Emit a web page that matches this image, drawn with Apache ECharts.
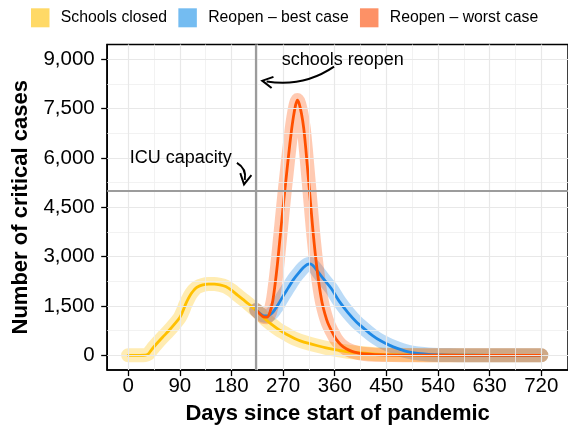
<!DOCTYPE html>
<html><head><meta charset="utf-8">
<script src="https://cdn.jsdelivr.net/npm/echarts@6/dist/echarts.min.js"></script>
<style>html,body{margin:0;padding:0;background:#fff}#c{width:568px;height:434px}</style>
</head><body><div id="c"></div>
<script>
// ---- data ----
const closedDays = [0,10,20,30,35,40,45,50,60,70,80,90,95,100,105,110,115,120,130,140,150,160,170,180,190,200,210,220,230,240,250,260,270,280,290,300,315,330,345,360,380,400,420,440,470,500,540,600,660,720];
const closedVals = [0,0,0,5,40,150,260,360,550,730,930,1150,1330,1550,1730,1880,1990,2070,2140,2165,2165,2140,2090,1980,1840,1700,1560,1410,1260,1080,940,810,700,600,510,440,360,290,225,170,115,80,50,30,15,7,3,1,0,0];
const bestDays = [223,230,237,243,250,256,262,270,279,288,297,305,312,317,322,330,340,354,368,383,397,412,426,440,455,469,483,498,515,530,560,600,660,720];
const bestVals = [1380,1270,1200,1200,1270,1400,1560,1800,2050,2300,2500,2660,2760,2780,2730,2560,2330,2030,1640,1300,1030,800,600,440,310,210,130,75,40,20,6,2,0,0];
const worstDays = [223,230,236,242,247,252,256,260,264,268,272,276,280,284,288,292,295,298,302,306,310,314,318,322,326,330,334,338,343,348,354,362,371,380,390,400,412,430,460,500,560,620,720];
const worstVals = [1380,1250,1170,1160,1300,1650,2150,2750,3450,4150,4850,5500,6150,6750,7250,7620,7760,7650,7350,6900,6200,5400,4600,3800,3100,2500,2000,1600,1250,980,760,500,313,200,120,75,40,20,8,3,1,0,0];
const seriesNames = ['Schools closed','Reopen \u2013 best case','Reopen \u2013 worst case'];
const xTicks = [0,90,180,270,360,450,540,630,720];
const xMinor = [45,135,225,315,405,495,585,675];
const yTicks = [0,1500,3000,4500,6000,7500,9000];
const yMinor = [750,2250,3750,5250,6750,8250];
const reopenDay = 223;
const icuCapacity = 5000;
// annotation anchors (data coordinates)
const icuLabel = {text:'ICU capacity', at:[91.6, 5990]};
const reopenLabel = {text:'schools reopen', at:[374, 8980]};
const icuArrow = {from:[189.5, 5848], to:[203.3, 5330], curveness:0.35};
const reopenArrow = {from:[358.8, 8776], to:[241.3, 8326], curveness:0.2};

// ---- styles ----
const FONT = "'Liberation Sans', Arial, sans-serif";
const lineColors = ['#FFC000','#1E88E5','#FF5000'];
const keyColors = ['#FFD966','#74BCF1','#FD9166'];
const bandW = 14, lineW = 2.8;
const pairs = (d, v) => d.map((x, i) => [x, v[i]]);
const datasets = [pairs(closedDays, closedVals), pairs(bestDays, bestVals), pairs(worstDays, worstVals)];

const chart = echarts.init(document.getElementById('c'), null, {renderer:'canvas'});
const arrowHead = 'path://M0,0 L7,12 L5.2,13 L0,4.2 L-5.2,13 L-7,12 Z';

const bandSeries = datasets.map((d, i) => ({
  name: seriesNames[i], type:'line', data:d, showSymbol:false, smooth:0.3, silent:true, z:3,
  itemStyle:{color:keyColors[i]},
  lineStyle:{width:bandW, color:lineColors[i], opacity:0.3, cap:'round', join:'round'},
  animation:false
}));
const thinSeries = datasets.map((d, i) => ({
  name: seriesNames[i] + ' line', type:'line', data:d, showSymbol:false, smooth:0.3, silent:true, z:4,
  lineStyle:{width:lineW, color:lineColors[i], cap:'round', join:'round'},
  animation:false
}));

const gridMajor = {color:'#E8E8E8', width:1.2, type:'solid'};
const gridMinor = {color:'#EFEFEF', width:0.8, type:'solid'};
const gridSeries = {
  name:'grid', type:'line', data:[], silent:true, z:1, animation:false,
  markLine:{
    silent:true, animation:false, symbol:['none','none'], label:{show:false},
    emphasis:{disabled:true},
    data:[
      ...xMinor.map(v => ({xAxis:v, lineStyle:gridMinor})),
      ...yMinor.map(v => ({yAxis:v, lineStyle:gridMinor})),
      ...xTicks.map(v => ({xAxis:v, lineStyle:gridMajor})),
      ...yTicks.map(v => ({yAxis:v, lineStyle:gridMajor}))
    ]
  }
};
const refStyle = {color:'#9C9C9C', width:2.2, type:'solid'};
const refSeries = {
  name:'ref', type:'line', data:[], silent:true, z:2, animation:false,
  markLine:{
    silent:true, animation:false, symbol:['none','none'], label:{show:false},
    emphasis:{disabled:true},
    data:[{xAxis:reopenDay, lineStyle:refStyle},{yAxis:icuCapacity, lineStyle:refStyle}]
  }
};
const arrowSeries = [icuArrow, reopenArrow].map((a, i) => ({
  name:'arrow' + i, type:'lines', coordinateSystem:'cartesian2d', silent:true, z:6, animation:false,
  symbol:['none', arrowHead], symbolSize:[14,13],
  lineStyle:{color:'#000', width:2, opacity:1, curveness:a.curveness, type:'solid'},
  itemStyle:{color:'#000'},
  data:[{coords:[a.from, a.to]}]
}));
const textSeries = {
  name:'ann', type:'line', data:[], silent:true, z:6, animation:false,
  markPoint:{
    silent:true, animation:false, symbol:'circle', symbolSize:0,
    label:{show:true, position:'inside', color:'#000', fontSize:18, fontFamily:FONT, formatter:'{b}'},
    data:[
      {name:icuLabel.text, coord:icuLabel.at},
      {name:reopenLabel.text, coord:reopenLabel.at}
    ]
  }
};

const axisText = {color:'#000', fontSize:20.5, fontFamily:FONT};
chart.setOption({
  animation:false,
  backgroundColor:'#fff',
  grid:{left:107.2, right:-4, top:44.5, bottom:63.9, show:true, borderColor:'#000', borderWidth:1.5, backgroundColor:'transparent'},
  legend:{
    top:8.3, left:31, padding:0, itemWidth:18.5, itemHeight:19, itemGap:11.3, selectedMode:false,
    textStyle:{color:'#000', fontSize:15.8, fontFamily:FONT, padding:[0,0,0,6.3]},
    data: seriesNames.map((n, i) => ({name:n, icon:'rect', itemStyle:{color:keyColors[i], opacity:1, borderWidth:0}}))
  },
  xAxis:{
    type:'value', min:-36.5, max:766.5,
    axisLine:{show:true, onZero:false, lineStyle:{color:'#000', width:1.5}},
    axisTick:{show:true, customValues:xTicks, length:6, lineStyle:{color:'#000', width:1.3}},
    axisLabel:Object.assign({customValues:xTicks, margin:6}, axisText),
    splitLine:{show:false},
    name:'Days since start of pandemic', nameLocation:'middle', nameGap:33,
    nameTextStyle:{color:'#000', fontSize:22, fontWeight:'bold', fontFamily:FONT}
  },
  yAxis:{
    type:'value', min:-450, max:9450,
    axisLine:{show:true, onZero:false, lineStyle:{color:'#000', width:1.5}},
    axisTick:{show:true, customValues:yTicks, length:6, lineStyle:{color:'#000', width:1.3}},
    axisLabel:Object.assign({customValues:yTicks, margin:12.5, formatter:v => v.toLocaleString('en-US')}, axisText),
    splitLine:{show:false},
    name:'Number of critical cases', nameLocation:'middle', nameGap:75,
    nameTextStyle:{color:'#000', fontSize:22, fontWeight:'bold', fontFamily:FONT}
  },
  series:[gridSeries, refSeries, ...bandSeries, ...thinSeries, ...arrowSeries, textSeries]
});
</script>
</body></html>
